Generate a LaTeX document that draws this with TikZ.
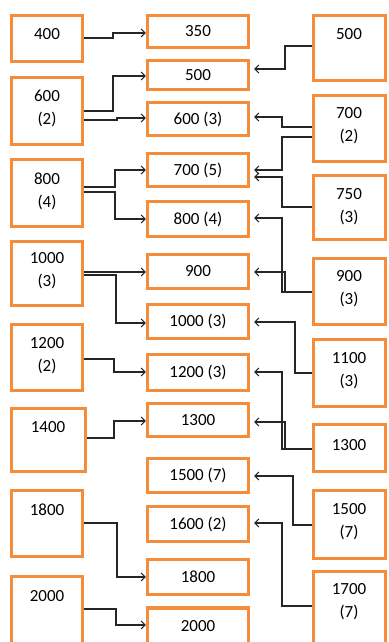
\documentclass[tikz,border=0pt]{standalone}
\usepackage{fontspec}
\setmainfont{Carlito}
\usetikzlibrary{arrows.meta}
\definecolor{boxorange}{RGB}{244,140,58}
\begin{document}
\begin{tikzpicture}[x=1pt,y=-1pt,
  box/.style={draw=boxorange, line width=3.2pt, fill=white, inner sep=0pt, font=\fontsize{17}{23}\selectfont},
  txt/.style={font=\fontsize{17}{23}\selectfont, align=center, inner sep=0pt},
  conn/.style={draw=black!85, line width=1.1pt, -{Straight Barb[length=4pt,width=8pt]}},
  rconn/.style={conn, shorten >=4pt}]
\useasboundingbox (0,0) rectangle (388,642);
% left column
\node[box, minimum width=71pt, minimum height=46pt] (L1) at (47,38.5) {};
\node[box, minimum width=71pt, minimum height=67pt] (L2) at (47,111) {};
\node[box, minimum width=71pt, minimum height=67pt] (L3) at (47,193) {};
\node[box, minimum width=71pt, minimum height=64pt] (L4) at (47,273.5) {};
\node[box, minimum width=71pt, minimum height=66pt] (L5) at (47,357.5) {};
\node[box, minimum width=74pt, minimum height=63pt] (L6) at (48.5,440) {};
\node[box, minimum width=71pt, minimum height=66pt] (L7) at (47,523.5) {};
\node[box, minimum width=71pt, minimum height=72pt] (L8) at (47,612.5) {};
\node[txt] (L1t) at (47,34) {400};
\node[txt] (L2t) at (47,108.5) {600\\(2)};
\node[txt] (L3t) at (47,191) {800\\(4)};
\node[txt] (L4t) at (47,271) {1000\\(3)};
\node[txt] (L5t) at (47,355.5) {1200\\(2)};
\node[txt] (L6t) at (48,427) {1400};
\node[txt] (L7t) at (47,510) {1800};
\node[txt] (L8t) at (47,596) {2000};
% middle column
\node[box, minimum width=101pt, minimum height=32pt] (M1) at (198,31.5) {350};
\node[box, minimum width=101pt, minimum height=29pt] (M2) at (198,75) {500};
\node[box, minimum width=101pt, minimum height=33pt] (M3) at (198,119) {600 (3)};
\node[box, minimum width=101pt, minimum height=33pt] (M4) at (198,170) {700 (5)};
\node[box, minimum width=101pt, minimum height=35pt] (M5) at (198,219) {800 (4)};
\node[box, minimum width=101pt, minimum height=34pt] (M6) at (198,271.5) {900};
\node[box, minimum width=101pt, minimum height=34pt] (M7) at (198,321.5) {1000 (3)};
\node[box, minimum width=101pt, minimum height=36pt] (M8) at (198,372.5) {1200 (3)};
\node[box, minimum width=101pt, minimum height=33pt] (M9) at (198,420) {1300};
\node[box, minimum width=101pt, minimum height=34pt] (M10) at (198,475.5) {1500 (7)};
\node[box, minimum width=101pt, minimum height=35pt] (M11) at (198,524) {1600 (2)};
\node[box, minimum width=101pt, minimum height=35pt] (M12) at (198,577) {1800};
\node[box, minimum width=101pt, minimum height=36pt] (M13) at (198,626) {2000};
% right column
\node[box, minimum width=72pt, minimum height=65pt] (R1) at (349.5,48) {};
\node[box, minimum width=72pt, minimum height=66pt] (R2) at (349.5,128.5) {};
\node[box, minimum width=72pt, minimum height=64pt] (R3) at (349.5,207.5) {};
\node[box, minimum width=72pt, minimum height=66pt] (R4) at (349.5,291.5) {};
\node[box, minimum width=72pt, minimum height=67pt] (R5) at (349.5,373) {};
\node[box, minimum width=72pt, minimum height=47pt] (R6) at (349.5,448) {};
\node[box, minimum width=72pt, minimum height=68pt] (R7) at (349.5,524.5) {};
\node[box, minimum width=72pt, minimum height=77pt] (R8) at (349.5,610) {};
\node[txt] (R1t) at (349,34) {500};
\node[txt] (R2t) at (349,126) {700\\(2)};
\node[txt] (R3t) at (349,206.5) {750\\(3)};
\node[txt] (R4t) at (349,288.5) {900\\(3)};
\node[txt] (R5t) at (349,370.5) {1100\\(3)};
\node[txt] (R6t) at (349,445) {1300};
\node[txt] (R7t) at (349,521.5) {1500\\(7)};
\node[txt] (R8t) at (349,601.5) {1700\\(7)};
% left connectors
\draw[conn] (L1.east |- 0,38) -| (113,33) -- (M1.west |- 0,33);
\draw[conn] (L2.east |- 0,111) -| (113,76) -- (M2.west |- 0,76);
\draw[conn] (L2.east |- 0,120) -| (117,118) -- (M3.west |- 0,118);
\draw[conn] (L3.east |- 0,187) -| (115,170) -- (M4.west |- 0,170);
\draw[conn] (L3.east |- 0,192) -| (115,219) -- (M5.west |- 0,219);
\draw[conn] (L4.east |- 0,272) -- (M6.west |- 0,272);
\draw[conn] (L4.east |- 0,275) -| (116,323) -- (M7.west |- 0,323);
\draw[conn] (L5.east |- 0,359) -| (114,372) -- (M8.west |- 0,372);
\draw[conn] (L6.east |- 0,438) -| (114,421) -- (M9.west |- 0,421);
\draw[conn] (L7.east |- 0,523) -| (117,577) -- (M12.west |- 0,577);
\draw[conn] (L8.east |- 0,609) -| (116,625) -- (M13.west |- 0,625);
% right connectors
\draw[rconn] (R1.west |- 0,46) -| (285,69) -- (M2.east |- 0,69);
\draw[rconn] (R2.west |- 0,127) -| (282,117) -- (M3.east |- 0,117);
\draw[rconn] (R2.west |- 0,137) -| (282,170) -- (M4.east |- 0,170);
\draw[rconn] (R3.west |- 0,207) -| (282,177) -- (M4.east |- 0,177);
\draw[rconn] (R4.west |- 0,292) -| (282,218) -- (M5.east |- 0,218);
\draw[rconn] (R4.west |- 0,292) -| (285,272) -- (M6.east |- 0,272);
\draw[rconn] (R5.west |- 0,373) -| (295,322) -- (M7.east |- 0,322);
\draw[rconn] (R6.west |- 0,449) -| (282,372) -- (M8.east |- 0,372);
\draw[rconn] (R6.west |- 0,449) -| (285,422) -- (M9.east |- 0,422);
\draw[rconn] (R7.west |- 0,525) -| (293,476) -- (M10.east |- 0,476);
\draw[rconn] (R8.west |- 0,606) -| (282,523) -- (M11.east |- 0,523);
\end{tikzpicture}
\end{document}
